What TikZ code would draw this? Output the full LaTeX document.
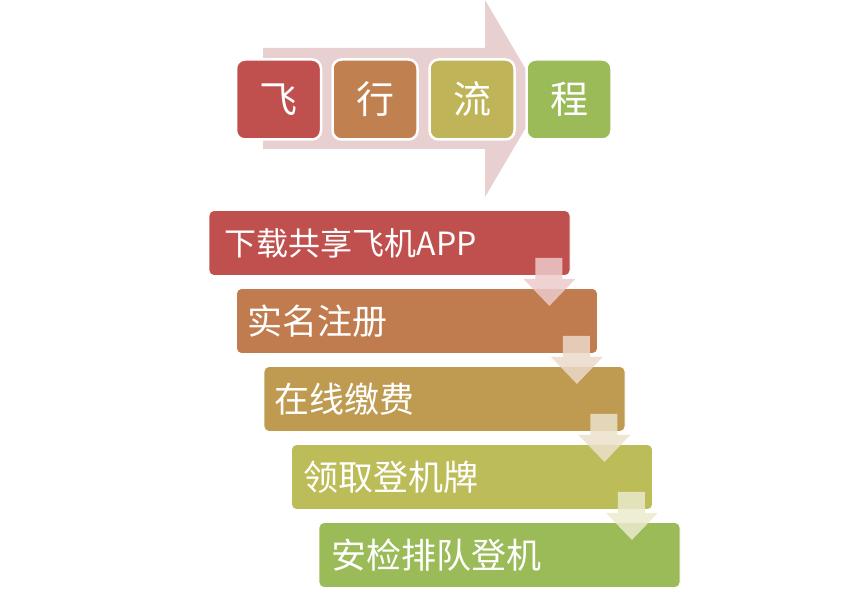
\documentclass[tikz,border=0pt]{standalone}
\usepackage{fontspec}
\newfontfamily\cjk{Noto Sans CJK SC}
\usetikzlibrary{calc}
\definecolor{cRed}{HTML}{C0504D}
\definecolor{cOrange}{HTML}{C0804F}
\definecolor{cTan}{HTML}{BE9B51}
\definecolor{cOlive}{HTML}{BFB457}
\definecolor{cOliveB}{HTML}{BCBC58}
\definecolor{cGreen}{HTML}{9BBB59}
\definecolor{cPink}{HTML}{E8CFD0}
\tikzset{
  topbox/.style={rectangle, rounded corners=9pt, draw=white, line width=2.5pt,
    minimum width=85pt, minimum height=80pt, inner sep=0pt,
    text=white, font=\cjk\fontsize{38}{44}\selectfont},
  stepbox/.style={rectangle, rounded corners=5pt, draw=white, line width=0.8pt,
    minimum width=361pt, minimum height=65pt, inner sep=0pt},
  steptext/.style={anchor=west, text=white, inner sep=0pt, font=\cjk\fontsize{35}{40}\selectfont},
  downarrow/.style={fill=#1!30!white, fill opacity=0.85, draw=none}
}
\begin{document}
\begin{tikzpicture}[x=1pt,y=-1pt]
\useasboundingbox (0,0) rectangle (850,604);
% big background arrow
\fill[cPink] (263,48) -- (485,48) -- (485,0) -- (543,98.5) -- (485,197) -- (485,149) -- (263,149) -- cycle;
% title boxes
\node[topbox, fill=cRed]    (t1) at (278.5,99.5) {飞};
\node[topbox, fill=cOrange] (t2) at (375,99.5) {行};
\node[topbox, fill=cOlive]  (t3) at (472,99.5) {流};
\node[topbox, fill=cGreen]  (t4) at (569,99.5) {程};
% step boxes
\node[stepbox, fill=cRed]    (s1) at (389.5,243) {};
\node[stepbox, fill=cOrange!92!cRed] (s2) at (417,321) {};
\node[stepbox, fill=cTan]    (s3) at (444.5,399) {};
\node[stepbox, fill=cOliveB] (s4) at (472,477) {};
\node[stepbox, fill=cGreen]  (s5) at (499.5,555) {};
\node[steptext, font=\cjk\fontsize{32}{38}\selectfont] (l1) at ($(s1.west)+(16,0)$) {下载共享飞机APP};
\node[steptext] (l2) at ($(s2.west)+(11,0)$) {实名注册};
\node[steptext] (l3) at ($(s3.west)+(11,0)$) {在线缴费};
\node[steptext] (l4) at ($(s4.west)+(12,0)$) {领取登机牌};
\node[steptext] (l5) at ($(s5.west)+(13,0)$) {安检排队登机};
% down arrows
\foreach \a/\c in {s1/cRed, s2/cOrange, s3/cTan, s4/cOliveB}{
  \fill[downarrow=\c]
    ($(\a.south east)+(-35,-18)$) -- ($(\a.south east)+(-8,-18)$) --
    ($(\a.south east)+(-8,3)$) -- ($(\a.south east)+(5,3)$) --
    ($(\a.south east)+(-21,30)$) -- ($(\a.south east)+(-47,3)$) --
    ($(\a.south east)+(-35,3)$) -- cycle;
}
\end{tikzpicture}
\end{document}
